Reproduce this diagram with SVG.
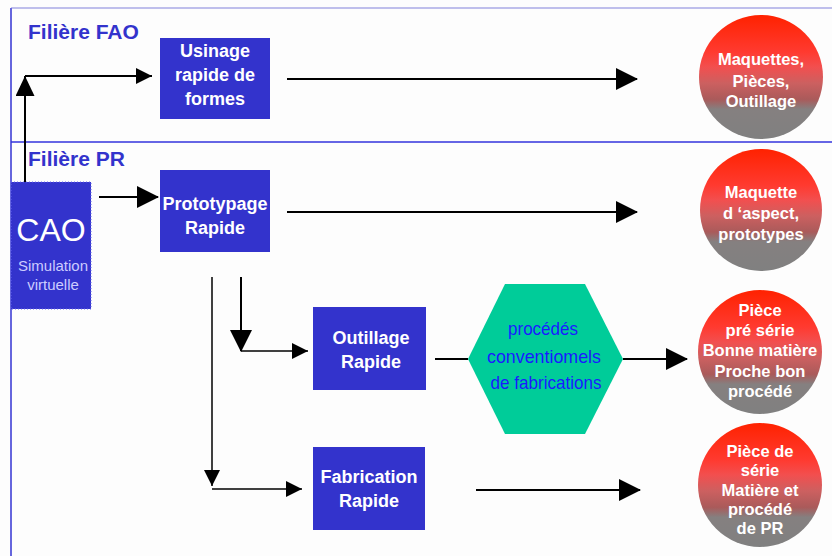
<svg xmlns="http://www.w3.org/2000/svg" width="832" height="556" viewBox="0 0 832 556">
<defs>
<linearGradient id="ball" x1="0" y1="0" x2="0" y2="1">
<stop offset="0" stop-color="#ff2200"/>
<stop offset="0.3" stop-color="#ff3a30"/>
<stop offset="0.42" stop-color="#f24f4f"/>
<stop offset="0.55" stop-color="#cc6060"/>
<stop offset="0.68" stop-color="#aa5a5a"/>
<stop offset="0.76" stop-color="#858080"/>
<stop offset="1" stop-color="#808080"/>
</linearGradient>
<marker id="ah" markerUnits="userSpaceOnUse" markerWidth="22" markerHeight="22" viewBox="0 0 22 22" refX="21" refY="11" orient="auto">
<path d="M0,0 L22,11 L0,22 Z" fill="#000"/>
</marker>
<marker id="am" markerUnits="userSpaceOnUse" markerWidth="20" markerHeight="19" viewBox="0 0 20 19" refX="20" refY="9.5" orient="auto">
<path d="M0,0 L20,9.5 L0,19 Z" fill="#000"/>
</marker>
<marker id="as" markerUnits="userSpaceOnUse" markerWidth="16" markerHeight="16" viewBox="0 0 16 16" refX="16" refY="8" orient="auto">
<path d="M0,0 L16,8 L0,16 Z" fill="#000"/>
</marker>
</defs>
<style>
.box{fill:#3333cc}
.bt{font-family:"Liberation Sans",Arial,sans-serif;font-weight:bold;font-size:18px;fill:#fff;text-anchor:middle}
.ct{font-family:"Liberation Sans",Arial,sans-serif;font-weight:bold;font-size:16.5px;fill:#fff;text-anchor:middle}
.lbl{font-family:"Liberation Sans",Arial,sans-serif;font-weight:bold;font-size:21px;fill:#3333cc}
.ht{font-family:"Liberation Sans",Arial,sans-serif;font-size:19px;fill:#1a1aff;text-anchor:middle}
.c{fill:none;stroke:#000;stroke-width:2}
.t{fill:none;stroke:#000;stroke-width:1.5}
</style>
<rect width="832" height="556" fill="#fdfdfd"/>
<g id="frame">
<line x1="11" y1="8" x2="832" y2="8" stroke="#aaaae6" stroke-width="1.5"/>
<line x1="11" y1="8" x2="11" y2="556" stroke="#6666dd" stroke-width="2"/>
<line x1="11" y1="142" x2="832" y2="142" stroke="#3333dd" stroke-width="1.5"/>
<text class="lbl" x="28" y="39">Filière FAO</text>
<text class="lbl" x="28" y="166">Filière PR</text>
</g>
<g id="connectors">
<polyline class="c" points="25,182 25,76" marker-end="url(#am)"/>
<polyline class="c" points="25,76 152,76" marker-end="url(#as)"/>
<line class="c" x1="99" y1="197" x2="158" y2="197" marker-end="url(#ah)"/>
<line class="c" x1="287" y1="79" x2="637" y2="79" marker-end="url(#ah)"/>
<line class="c" x1="287" y1="212" x2="637" y2="212" marker-end="url(#ah)"/>
<line class="c" x1="241" y1="277" x2="241" y2="351" marker-end="url(#ah)"/>
<line class="t" x1="241" y1="351" x2="308" y2="351" marker-end="url(#as)"/>
<line class="t" x1="212" y1="277" x2="212" y2="486" marker-end="url(#as)"/>
<line class="t" x1="212" y1="489" x2="302" y2="489" marker-end="url(#as)"/>
<line class="c" x1="435" y1="359" x2="468" y2="359"/>
<line class="c" x1="623" y1="359" x2="687" y2="359" marker-end="url(#ah)"/>
<line class="c" x1="476" y1="490" x2="640" y2="490" marker-end="url(#ah)"/>
</g>
<g id="cao">
<rect x="11" y="182" width="80" height="127" fill="#3333cc" stroke="#6666ee" stroke-width="1" stroke-dasharray="1,2"/>
<text x="51" y="241" font-family="Liberation Sans, Arial, sans-serif" font-size="32" fill="#fff" text-anchor="middle">CAO</text>
<text x="53" y="271" font-family="Liberation Sans, Arial, sans-serif" font-size="15" fill="#ccccff" text-anchor="middle">Simulation</text>
<text x="53" y="290" font-family="Liberation Sans, Arial, sans-serif" font-size="15" fill="#ccccff" text-anchor="middle">virtuelle</text>
</g>
<g id="usinage">
<rect class="box" x="160" y="38" width="110" height="81"/>
<text class="bt" x="215" y="57">Usinage</text>
<text class="bt" x="215" y="81">rapide de</text>
<text class="bt" x="215" y="105">formes</text>
</g>
<g id="prototypage">
<rect class="box" x="160" y="170" width="110" height="82"/>
<text class="bt" x="215" y="210">Prototypage</text>
<text class="bt" x="215" y="234">Rapide</text>
</g>
<g id="outillage">
<rect class="box" x="313" y="307" width="113" height="83"/>
<text class="bt" x="371" y="344">Outillage</text>
<text class="bt" x="371" y="368">Rapide</text>
</g>
<g id="fabrication">
<rect class="box" x="313" y="447" width="112" height="83"/>
<text class="bt" x="369" y="483">Fabrication</text>
<text class="bt" x="369" y="507">Rapide</text>
</g>
<g id="procedes">
<polygon points="468,359 505,284 585,284 623,359 585,434 505,434" fill="#00cc99"/>
<text class="ht" x="543" y="335" textLength="70" lengthAdjust="spacingAndGlyphs">procédés</text>
<text class="ht" x="544" y="363" textLength="114" lengthAdjust="spacingAndGlyphs">conventiomels</text>
<text class="ht" x="546" y="389" textLength="111" lengthAdjust="spacingAndGlyphs">de fabrications</text>
</g>
<g id="res1">
<circle cx="761" cy="77" r="62" fill="url(#ball)"/>
<text class="ct" x="761" y="65">Maquettes,</text>
<text class="ct" x="761" y="87">Pièces,</text>
<text class="ct" x="761" y="107">Outillage</text>
</g>
<g id="res2">
<circle cx="761" cy="210" r="61" fill="url(#ball)"/>
<text class="ct" x="761" y="198">Maquette</text>
<text class="ct" x="761" y="219">d ‘aspect,</text>
<text class="ct" x="761" y="240">prototypes</text>
</g>
<g id="res3">
<circle cx="760" cy="352" r="62" fill="url(#ball)"/>
<text class="ct" x="760" y="316">Pièce</text>
<text class="ct" x="760" y="336">pré série</text>
<text class="ct" x="760" y="356">Bonne matière</text>
<text class="ct" x="760" y="377">Proche bon</text>
<text class="ct" x="760" y="397">procédé</text>
</g>
<g id="res4">
<circle cx="760" cy="485" r="62" fill="url(#ball)"/>
<text class="ct" x="760" y="457">Pièce de</text>
<text class="ct" x="760" y="476">série</text>
<text class="ct" x="760" y="496">Matière et</text>
<text class="ct" x="760" y="515">procédé</text>
<text class="ct" x="760" y="534">de PR</text>
</g>
</svg>
